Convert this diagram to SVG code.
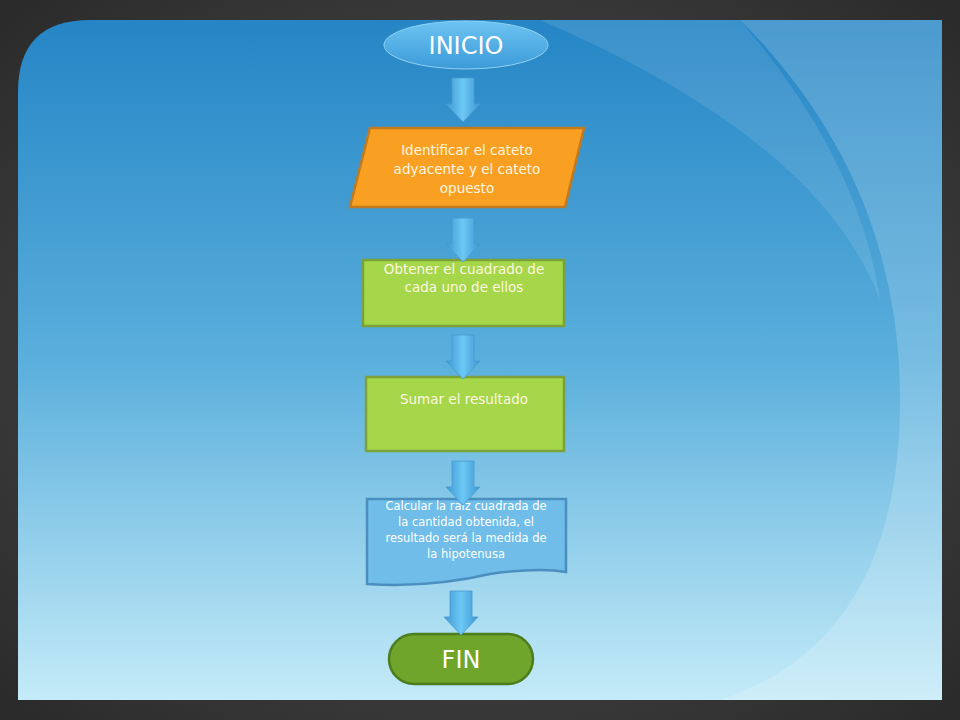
<svg xmlns="http://www.w3.org/2000/svg" width="960" height="720" viewBox="0 0 960 720">
<defs>
<linearGradient id="bg" x1="0" y1="0" x2="0" y2="1"><stop offset="0" stop-color="#2585c5"/><stop offset="0.5" stop-color="#5aafdc"/><stop offset="1" stop-color="#c4ebf8"/></linearGradient>
<linearGradient id="ell" x1="0" y1="0" x2="0" y2="1"><stop offset="0" stop-color="#6cc4f2"/><stop offset="1" stop-color="#3c9ad8"/></linearGradient>
<linearGradient id="arr" x1="0" y1="0" x2="1" y2="0"><stop offset="0" stop-color="#3f98d4"/><stop offset="0.5" stop-color="#6cc8f4"/><stop offset="1" stop-color="#3f98d4"/></linearGradient>
<radialGradient id="frame" cx="0.5" cy="0.5" r="0.7"><stop offset="0" stop-color="#555"/><stop offset="1" stop-color="#2a2a2a"/></radialGradient>
<path id="a" d="M-11,0 H11 V26 H17 L0,44 L-17,26 H-11 Z"/>
</defs>
<style>
.t{font-family:"DejaVu Sans","Liberation Sans",sans-serif;fill:#fdf6e0;text-anchor:middle}
.s{font-size:13.5px}
.x{font-size:11.5px;fill:#fff}
.big{font-size:24px;fill:#fff}
.ar{fill:url(#arr);stroke:#4a9ad0;stroke-width:0.8}
</style>
<rect width="960" height="720" fill="url(#frame)"/>
<path d="M90,20 H942 V700 H18 V92 Q18,20 90,20 Z" fill="url(#bg)"/>
<path d="M740,20 H942 V700 H720 Q900,640 900,400 Q900,180 740,20 Z" fill="#ffffff" opacity="0.18"/>
<path d="M540,20 H740 Q860,160 880,300 Q820,140 540,20 Z" fill="#ffffff" opacity="0.1"/>
<g id="inicio"><ellipse cx="466" cy="45" rx="82" ry="24" fill="url(#ell)" stroke="#8fd0f0" stroke-width="1"/><text class="t big" x="466" y="54">INICIO</text></g>
<g id="n1"><polygon points="370,128 584,128 565,207 350,207" fill="#f9a023" stroke="#c27a1e" stroke-width="2.5"/>
<text class="t s" x="467" y="155">Identificar el cateto</text><text class="t s" x="467" y="174">adyacente y el cateto</text><text class="t s" x="467" y="193">opuesto</text></g>
<g id="n2"><rect x="363" y="260" width="201" height="66" fill="#a6d64a" stroke="#7da139" stroke-width="2.5"/>
<text class="t s" x="464" y="274">Obtener el cuadrado de</text><text class="t s" x="464" y="292">cada uno de ellos</text></g>
<g id="n3"><rect x="366" y="377" width="198" height="74" fill="#a6d64a" stroke="#7da139" stroke-width="2.5"/>
<text class="t s" x="464" y="404">Sumar el resultado</text></g>
<g id="n4"><path d="M367,499 H566 V572 Q540,567 490,574 Q430,588 367,584 Z" fill="#6fbde8" stroke="#4a8fc0" stroke-width="2.5"/>
<text class="t x" x="466" y="510">Calcular la raíz cuadrada  de</text><text class="t x" x="466" y="526">la cantidad  obtenida,  el</text><text class="t x" x="466" y="542">resultado  será la medida  de</text><text class="t x" x="466" y="558">la hipotenusa</text></g>
<g id="fin"><rect x="389" y="634" width="144" height="50" rx="25" fill="#6fa52a" stroke="#4c7d1e" stroke-width="2.5"/><text class="t big" x="461" y="668">FIN</text></g>
<g id="connectors">
<use href="#a" x="463" y="78" class="ar"/>
<use href="#a" x="463" y="218" class="ar"/>
<use href="#a" x="463" y="335" class="ar"/>
<use href="#a" x="463" y="461" class="ar"/>
<use href="#a" x="461" y="591" class="ar"/>
</g>
</svg>
